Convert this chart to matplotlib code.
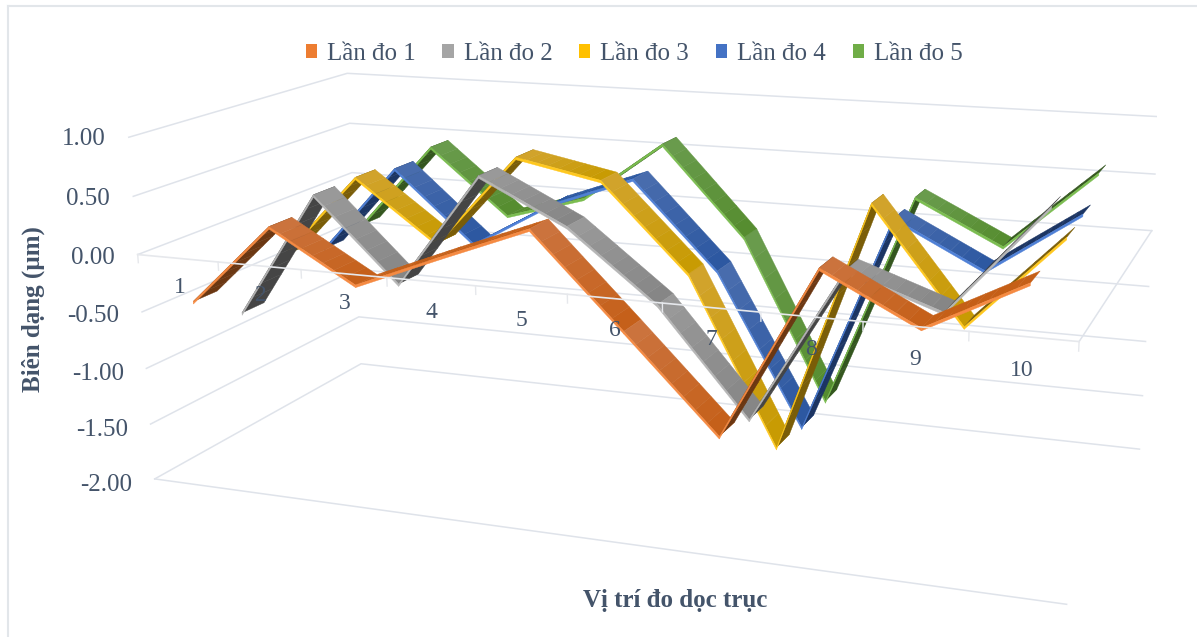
import matplotlib
matplotlib.use('Agg')
import matplotlib.pyplot as plt
import numpy as np
from matplotlib.lines import Line2D
from matplotlib.patches import Patch
from mpl_toolkits.mplot3d import proj3d
from mpl_toolkits.mplot3d.art3d import Poly3DCollection

plt.rcParams['font.family'] = ['Liberation Serif', 'DejaVu Serif']

categories = [1, 2, 3, 4, 5, 6, 7, 8, 9, 10]
series_names = ['Lần đo 1', 'Lần đo 2', 'Lần đo 3', 'Lần đo 4', 'Lần đo 5']
value_ticks = [1.00, 0.50, 0.00, -0.50, -1.00, -1.50, -2.00]

lan_do_1 = [-0.42, 0.29, -0.14, 0.16, 0.45, -0.31, -1.08, 0.33, -0.06, 0.35]
lan_do_2 = [-0.71, 0.41, -0.31, 0.68, 0.31, -0.28, -1.17, 0.14, -0.13, 0.76]
lan_do_3 = [-0.36, 0.42, -0.12, 0.70, 0.55, -0.20, -1.65, 0.52, -0.44, 0.36]
lan_do_4 = [-0.46, 0.36, -0.29, 0.14, 0.42, -0.35, -1.70, 0.24, -0.15, 0.39]
lan_do_5 = [-0.39, 0.43, -0.18, 0.04, 0.60, -0.21, -1.68, 0.27, -0.11, 0.59]
all_series = [lan_do_1, lan_do_2, lan_do_3, lan_do_4, lan_do_5]

# legend, edge, top start, top end, underside
palette = [
    ('#ED7D31', '#F58A42', '#CB7440', '#C55F17', '#6B3712'),
    ('#A5A5A5', '#B5B5B5', '#9A9A9A', '#858585', '#454545'),
    ('#FFC000', '#FFC81E', '#D2A42E', '#C79A00', '#7A5D08'),
    ('#4472C4', '#4F80D6', '#4A6DAE', '#2B57A0', '#1C3563'),
    ('#70AD47', '#7BBD50', '#6A9C4E', '#558C2E', '#34561F'),
]
grid_color = '#DFE3EA'
text_color = '#44546A'
ribbon_width = 0.10
ribbon_thick = 0.022


def draw_ribbon(ax, values, y, colors, order):
    xs = np.array(categories) - 0.5
    y0, y1 = y - ribbon_width / 2, y + ribbon_width / 2
    polys, cols, edge_polys = [], [], []
    for i in range(len(values) - 1):
        dv = values[i + 1] - values[i]
        steps = np.linspace(0, 1, 9)
        for a, b in zip(steps[:-1], steps[1:]):
            xa, xb = xs[i] + a, xs[i] + b
            va, vb = values[i] + dv * a, values[i] + dv * b
            polys.append([(xa, y0, va), (xb, y0, vb), (xb, y1, vb), (xa, y1, va)])
            if dv > 0.53:
                cols.append(colors[4])
            elif dv > 0:
                cols.append(colors[3])
            else:
                c0 = np.array(matplotlib.colors.to_rgb(colors[2]))
                c1 = np.array(matplotlib.colors.to_rgb(colors[3]))
                cols.append(c0 + (c1 - c0) * (a + b) / 2)
        edge_polys.append([(xs[i], y0, values[i]), (xs[i + 1], y0, values[i + 1]),
                           (xs[i + 1], y0, values[i + 1] - ribbon_thick),
                           (xs[i], y0, values[i] - ribbon_thick)])
    top = Poly3DCollection(polys, facecolors=cols, edgecolors=cols, linewidths=0.3)
    top.set_zorder(order)
    ax.add_collection3d(top)
    edge = Poly3DCollection(edge_polys, facecolors=colors[1], edgecolors=colors[1], linewidths=0.3)
    edge.set_zorder(order + 0.5)
    ax.add_collection3d(edge)


def label_at(ax, x, y, z, s, **kw):
    # tick labels are plain 2D text placed at the projected point
    px, py, _ = proj3d.proj_transform(x, y, z, ax.get_proj())
    ax.text2D(px, py, s, transform=ax.transData, color=text_color, zorder=31, va='center', **kw)


fig = plt.figure(figsize=(11.97, 6.37), dpi=100)
ax = fig.add_axes([121 / 1197, -194 / 637, 1036 / 1197, 1036 / 637], projection='3d')
ax.computed_zorder = False
ax.set_box_aspect((939, 436, 358))
ax.set_proj_type('persp', focal_length=0.3646)
ax.view_init(elev=15, azim=-68.75, roll=0.5)
ax.set_axis_off()
ax.patch.set_alpha(0)

# walls and floor
for v in value_ticks:
    ax.plot([0, 0, 10], [0, 1, 1], [v, v, v], color=grid_color, lw=1.1, zorder=1)
ax.plot([0, 10], [0, 0], [-2, -2], color=grid_color, lw=1.1, zorder=1)
ax.plot([10, 10], [0, 1], [0, 0], color=grid_color, lw=1.1, zorder=1)

for i in range(4, -1, -1):
    draw_ribbon(ax, all_series[i], 0.1 + 0.2 * i, palette[i], 10 + 2 * (4 - i))

# category axis sits over the ribbons
ax.plot([0, 10], [0, 0], [0, 0], color='#E6E8EC', lw=1.2, zorder=30)
for k in range(11):
    ax.plot([k, k], [0, 0], [0, -0.07], color='#E6E8EC', lw=1.0, zorder=30)

ax.set_xlim(0, 10, view_margin=0)
ax.set_ylim(0, 1, view_margin=0)
ax.set_zlim(-2, 1, view_margin=0)
ax.set_xticks([])
ax.set_yticks([])
ax.set_zticks([])

for c in categories:
    label_at(ax, c - 0.5, 0, -0.25, str(c), fontsize=17, ha='center')
for v in value_ticks:
    label_at(ax, -0.3, 0, v * 1.02 - 0.05, f'{v:.2f}', fontsize=18, ha='right')

fig.text(33 / 1197, 1 - 309 / 637, 'Biên dạng (µm)', rotation=90, color=text_color,
         fontsize=18, fontweight='bold', ha='center', va='center')
fig.text(675 / 1197, 1 - 601 / 637, 'Vị trí đo dọc trục', color=text_color,
         fontsize=18, fontweight='bold', ha='center', va='center')

handles = [Patch(facecolor=p[0]) for p in palette]
fig.legend(handles, series_names, ncol=5, frameon=False, loc='center',
           bbox_to_anchor=(634 / 1197, 1 - 54 / 637), fontsize=18, labelcolor=text_color,
           handlelength=0.45, handleheight=0.45, handletextpad=0.4, columnspacing=1.07)

# chart frame along the top and left
frame_color = '#E2E6EA'
fig.add_artist(Line2D([8 / 1197, 8 / 1197], [0, 1 - 6 / 637], color=frame_color, lw=1.5))
fig.add_artist(Line2D([8 / 1197, 1], [1 - 6 / 637, 1 - 6 / 637], color=frame_color, lw=1.5))

fig.savefig('out.png', dpi=100)
